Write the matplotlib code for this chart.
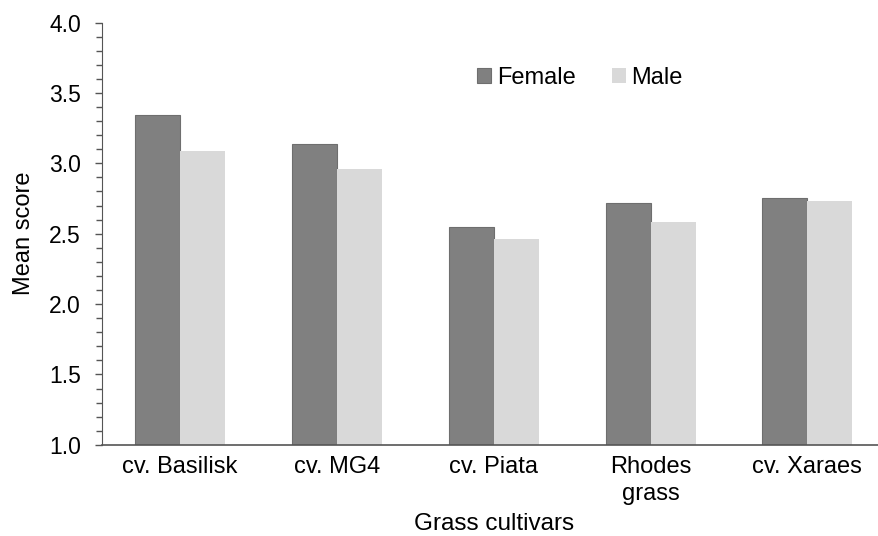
import matplotlib.pyplot as plt
import numpy as np
from matplotlib.ticker import MultipleLocator

plt.rcParams['font.family'] = ['Liberation Sans', 'DejaVu Sans']

cultivars = ['cv. Basilisk', 'cv. MG4', 'cv. Piata', 'Rhodes\ngrass', 'cv. Xaraes']
female = [3.34, 3.14, 2.55, 2.72, 2.75]
male = [3.09, 2.96, 2.46, 2.58, 2.735]

fig = plt.figure(figsize=(8.79, 5.36), dpi=100)
ax = fig.add_axes([0.1157, 0.170, 0.892, 0.788])

x = np.arange(len(cultivars))
w = 0.287
ax.bar(x - w / 2, female, w, color='#808080', edgecolor='#6e6e6e',
       linewidth=0.8, label='Female')
ax.bar(x + w / 2, male, w, color='#d9d9d9', label='Male')

ax.set_ylim(1.0, 4.0)
ax.set_xlim(-0.5, 4.5)
ax.yaxis.set_major_locator(MultipleLocator(0.5))
ax.yaxis.set_minor_locator(MultipleLocator(0.1))
ax.set_yticks(np.arange(1.0, 4.01, 0.5))
ax.set_yticklabels(['%.1f' % v for v in np.arange(1.0, 4.01, 0.5)])
ax.set_xticks(x)
ax.set_xticklabels(cultivars, fontsize=17, linespacing=1.3)
ax.tick_params(axis='x', length=0, pad=8)
ax.tick_params(axis='y', which='major', length=5, width=1, labelsize=16.5, pad=10,
               color='#555555')
ax.tick_params(axis='y', which='minor', length=4, width=1, color='#555555')

for s in ['top', 'right']:
    ax.spines[s].set_visible(False)
ax.spines['left'].set_color('#555555')
ax.spines['bottom'].set_color('#555555')
ax.spines['bottom'].set_linewidth(1.2)

ax.set_ylabel('Mean score', fontsize=17, labelpad=10)
ax.set_xlabel('Grass cultivars', fontsize=17.5, labelpad=6)

ax.legend(loc='upper left', bbox_to_anchor=(0.479, 0.895), ncol=2, frameon=False,
          fontsize=17, handlelength=0.6, handleheight=0.6, handletextpad=0.25,
          columnspacing=1.5, borderpad=0, borderaxespad=0)

fig.savefig('out.png', dpi=100)
